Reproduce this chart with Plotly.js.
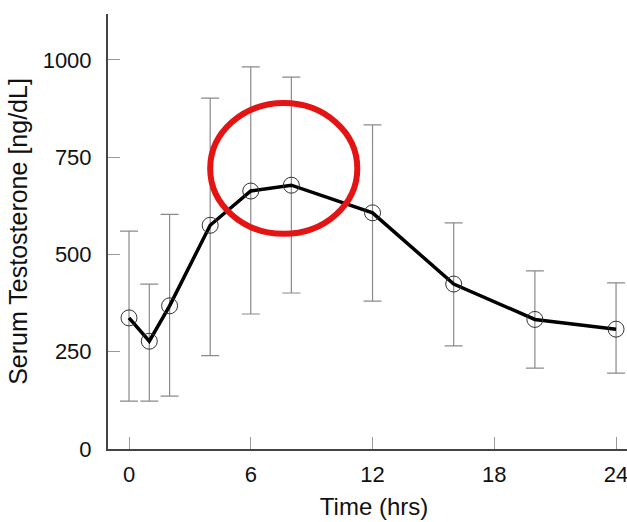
<!DOCTYPE html>
<html>
<head>
<meta charset="utf-8">
<script src="https://cdn.plot.ly/plotly-3.0.1.min.js"></script>
<style>html,body{margin:0;padding:0;background:#fff;overflow:hidden;}#chart{width:640px;height:522px;}</style>
</head>
<body>
<div id="chart"></div>
<script>
// Data
const timeHrs = [0, 1, 2, 4, 6, 8, 12, 16, 20, 24];
const meanT   = [337, 277, 368, 575, 663, 678, 607, 424, 333, 308];
const upperT  = [560, 424, 603, 902, 982, 956, 833, 581, 458, 427];
const lowerT  = [123, 123, 136, 240, 347, 401, 380, 265, 208, 195];
const xTicks  = [0, 6, 12, 18, 24];
const yTicks  = [0, 250, 500, 750, 1000];
// highlighted region (ellipse) in data units
const highlightX = [4.0, 11.25];
const highlightY = [553, 889];

const errPlus  = upperT.map((u, i) => u - meanT[i]);
const errMinus = meanT.map((m, i) => m - lowerT[i]);

const font = "'Liberation Sans', Arial, sans-serif";

const traces = [
  {
    x: timeHrs, y: meanT, type: 'scatter', mode: 'markers',
    marker: {size: 0.1, color: 'rgba(0,0,0,0)'},
    error_y: {type: 'data', symmetric: false, array: errPlus, arrayminus: errMinus,
              color: '#8a8a8a', thickness: 1.2, width: 9},
    hoverinfo: 'skip', showlegend: false
  },
  {
    x: timeHrs, y: meanT, type: 'scatter', mode: 'lines+markers',
    line: {color: '#000', width: 3.5},
    marker: {symbol: 'circle-open', size: 16, color: '#333', line: {width: 1, color: '#333'}},
    showlegend: false
  }
];

const layout = {
  width: 640, height: 522,
  margin: {l: 108, r: 0, t: 14, b: 73},
  paper_bgcolor: '#fff', plot_bgcolor: '#fff',
  font: {family: font, color: '#111', size: 22},
  xaxis: {
    range: [-1.035, 25.18], tickvals: xTicks, ticktext: xTicks.map(String),
    showgrid: false, zeroline: false, showline: true, linecolor: '#444', linewidth: 2,
    ticks: 'inside', ticklen: 12, tickcolor: '#999', tickwidth: 1,
    tickfont: {size: 22, family: font, color: '#111'},
    ticklabelstandoff: 5,
    title: {text: 'Time (hrs)', font: {size: 24, family: font, color: '#111'}, standoff: 12}
  },
  yaxis: {
    range: [0, 1118], tickvals: yTicks, ticktext: yTicks.map(String),
    showgrid: false, zeroline: false, showline: true, linecolor: '#444', linewidth: 2,
    ticks: 'inside', ticklen: 12, tickcolor: '#999', tickwidth: 1,
    tickfont: {size: 22, family: font, color: '#111'},
    ticklabelstandoff: 10,
    title: {text: 'Serum Testosterone [ng/dL]', font: {size: 25, family: font, color: '#111'}, standoff: 8}
  },
  shapes: [{
    type: 'circle', xref: 'x', yref: 'y',
    x0: highlightX[0], x1: highlightX[1], y0: highlightY[0], y1: highlightY[1],
    line: {color: '#e41414', width: 6}, fillcolor: 'rgba(0,0,0,0)'
  }]
};

Plotly.newPlot('chart', traces, layout, {displayModeBar: false, staticPlot: true});
</script>
</body>
</html>
